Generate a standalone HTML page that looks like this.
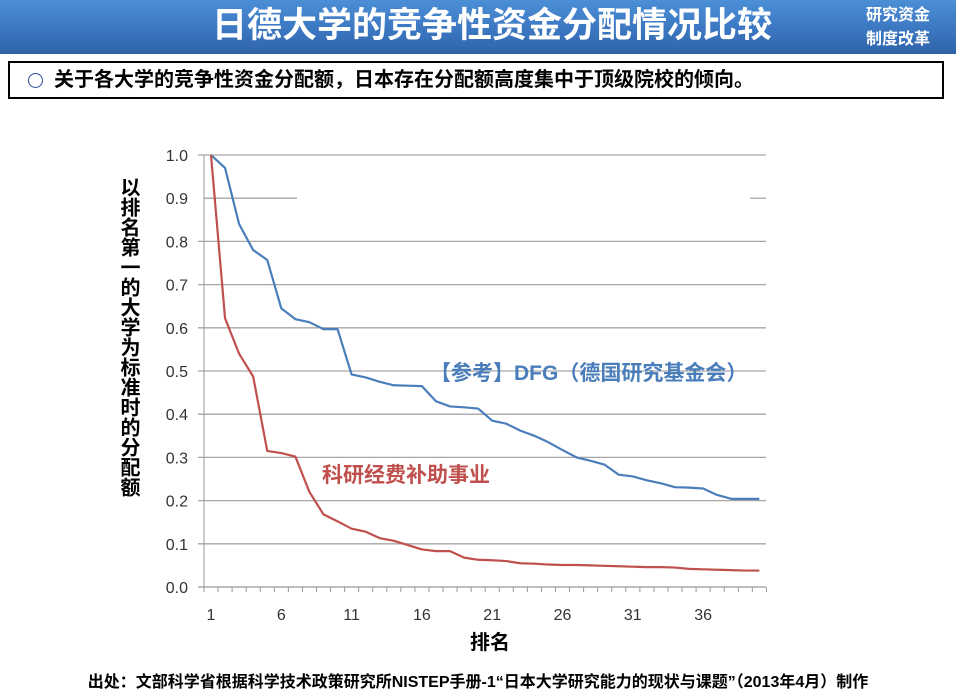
<!DOCTYPE html>
<html><head><meta charset="utf-8">
<style>
body{margin:0;width:956px;height:695px;background:#fff;position:relative;overflow:hidden;font-family:"Liberation Sans","Noto Sans CJK SC",sans-serif}
#hdr{position:absolute;left:0;top:0;width:956px;height:54px;background:linear-gradient(#4b8fd6,#3a75bf 60%,#2f63a8)}
#title{position:absolute;left:0;top:3px;width:984px;text-align:center;color:#fff;font-size:35px;font-weight:bold;line-height:46px}
#tag{position:absolute;left:866px;top:4px;color:#fff;font-size:16px;font-weight:bold;line-height:24px;text-align:center}
#box{position:absolute;left:8px;top:61px;width:932px;height:34px;border:2px solid #000;box-sizing:content-box}
#box span{position:absolute;left:44px;top:3px;font-size:20px;font-weight:bold;line-height:28px;white-space:nowrap}
#circ{position:absolute;left:18px;top:10px;width:13px;height:13px;border:1.5px solid #2a4e9a;border-radius:50%}
#ytitle{position:absolute;left:117px;top:177px;writing-mode:vertical-rl;font-size:20px;font-weight:bold;line-height:22px;letter-spacing:0px}
#foot{position:absolute;left:0;top:672px;width:956px;text-align:center;font-size:16px;font-weight:bold;white-space:nowrap;line-height:22px}
svg{position:absolute;left:0;top:0}
</style></head><body>
<div id="hdr"></div>
<div id="title">日德大学的竞争性资金分配情况比较</div>
<div id="tag">研究资金<br>制度改革</div>
<div id="box"><div id="circ"></div><span>关于各大学的竞争性资金分配额，日本存在分配额高度集中于顶级院校的倾向。</span></div>
<div id="ytitle">以排名第一的大学为标准时的分配额</div>
<svg id="chart" width="956" height="695"></svg>
<div id="foot">出处：文部科学省根据科学技术政策研究所NISTEP手册-1“日本大学研究能力的现状与课题”（2013年4月）制作</div>
<script>
const ranks=[];for(let i=1;i<=40;i++)ranks.push(i);
const dfgValues=[1.0,0.97,0.84,0.78,0.757,0.645,0.62,0.613,0.597,0.597,0.492,0.485,0.475,0.467,0.466,0.465,0.43,0.418,0.416,0.413,0.385,0.378,0.362,0.35,0.335,0.317,0.3,0.292,0.283,0.26,0.256,0.247,0.24,0.231,0.23,0.228,0.213,0.204,0.204,0.204];
const kakenValues=[1.0,0.622,0.54,0.487,0.315,0.31,0.302,0.22,0.168,0.152,0.135,0.128,0.113,0.107,0.097,0.087,0.083,0.083,0.068,0.063,0.062,0.06,0.055,0.054,0.052,0.051,0.051,0.05,0.049,0.048,0.047,0.046,0.046,0.045,0.042,0.041,0.04,0.039,0.038,0.038];
const yTicks=[0,0.1,0.2,0.3,0.4,0.5,0.6,0.7,0.8,0.9,1.0];
const xTickLabels=[1,6,11,16,21,26,31,36];
const svg=document.getElementById('chart'),NS='http://www.w3.org/2000/svg';
const X=r=>211+(r-1)*14.06, Y=v=>587-v*432;
function mk(t,a,name){const e=document.createElementNS(NS,t);for(const k in a)e.setAttribute(k,a[k]);


svg.appendChild(e);return e;}
yTicks.forEach(v=>{
 if(v>0){ if(Math.abs(v-0.9)<1e-6){mk('line',{x1:204,x2:297,y1:Y(v),y2:Y(v),stroke:'#a6a6a6','stroke-width':1.3},'gridline');mk('line',{x1:750,x2:766,y1:Y(v),y2:Y(v),stroke:'#a6a6a6','stroke-width':1.3},'gridline');}
 else mk('line',{x1:198,x2:766,y1:Y(v),y2:Y(v),stroke:'#a6a6a6','stroke-width':1.3},'gridline');}
 const t=mk('text',{x:188,y:Y(v)+6,'text-anchor':'end','font-size':16,fill:'#333','font-family':'Liberation Sans'},'y-tick-label');t.textContent=v.toFixed(1);
});
mk('line',{x1:204,x2:204,y1:155,y2:591},'y-axis-line').setAttribute('stroke','#999');
mk('line',{x1:198,x2:766,y1:587,y2:587,stroke:'#999','stroke-width':1.3},'x-axis-line');
for(let i=0;i<=40;i++){const x=204+i*14.06;mk('line',{x1:x,x2:x,y1:587,y2:592,stroke:'#999'},'x-tick');}
xTickLabels.forEach(r=>{const t=mk('text',{x:X(r),y:620,'text-anchor':'middle','font-size':16,fill:'#333','font-family':'Liberation Sans'},'x-tick-label');t.textContent=r;});
function line(vals,color,name){mk('polyline',{points:vals.map((v,i)=>X(ranks[i])+','+Y(v)).join(' '),fill:'none',stroke:color,'stroke-width':2.2,'stroke-linejoin':'round'},name);}
line(dfgValues,'#4a7ebb','dfg-line');line(kakenValues,'#c0504d','kaken-line');
let t=mk('text',{x:430,y:380,'font-size':21,'font-weight':'bold',fill:'#4a7ebb'},'dfg-label');t.textContent='【参考】DFG（德国研究基金会）';
t=mk('text',{x:322,y:482,'font-size':21,'font-weight':'bold',fill:'#c0504d'},'kaken-label');t.textContent='科研经费补助事业';
t=mk('text',{x:490,y:649,'text-anchor':'middle','font-size':20,'font-weight':'bold',fill:'#000'},'x-axis-title');t.textContent='排名';
</script>
</body></html>
